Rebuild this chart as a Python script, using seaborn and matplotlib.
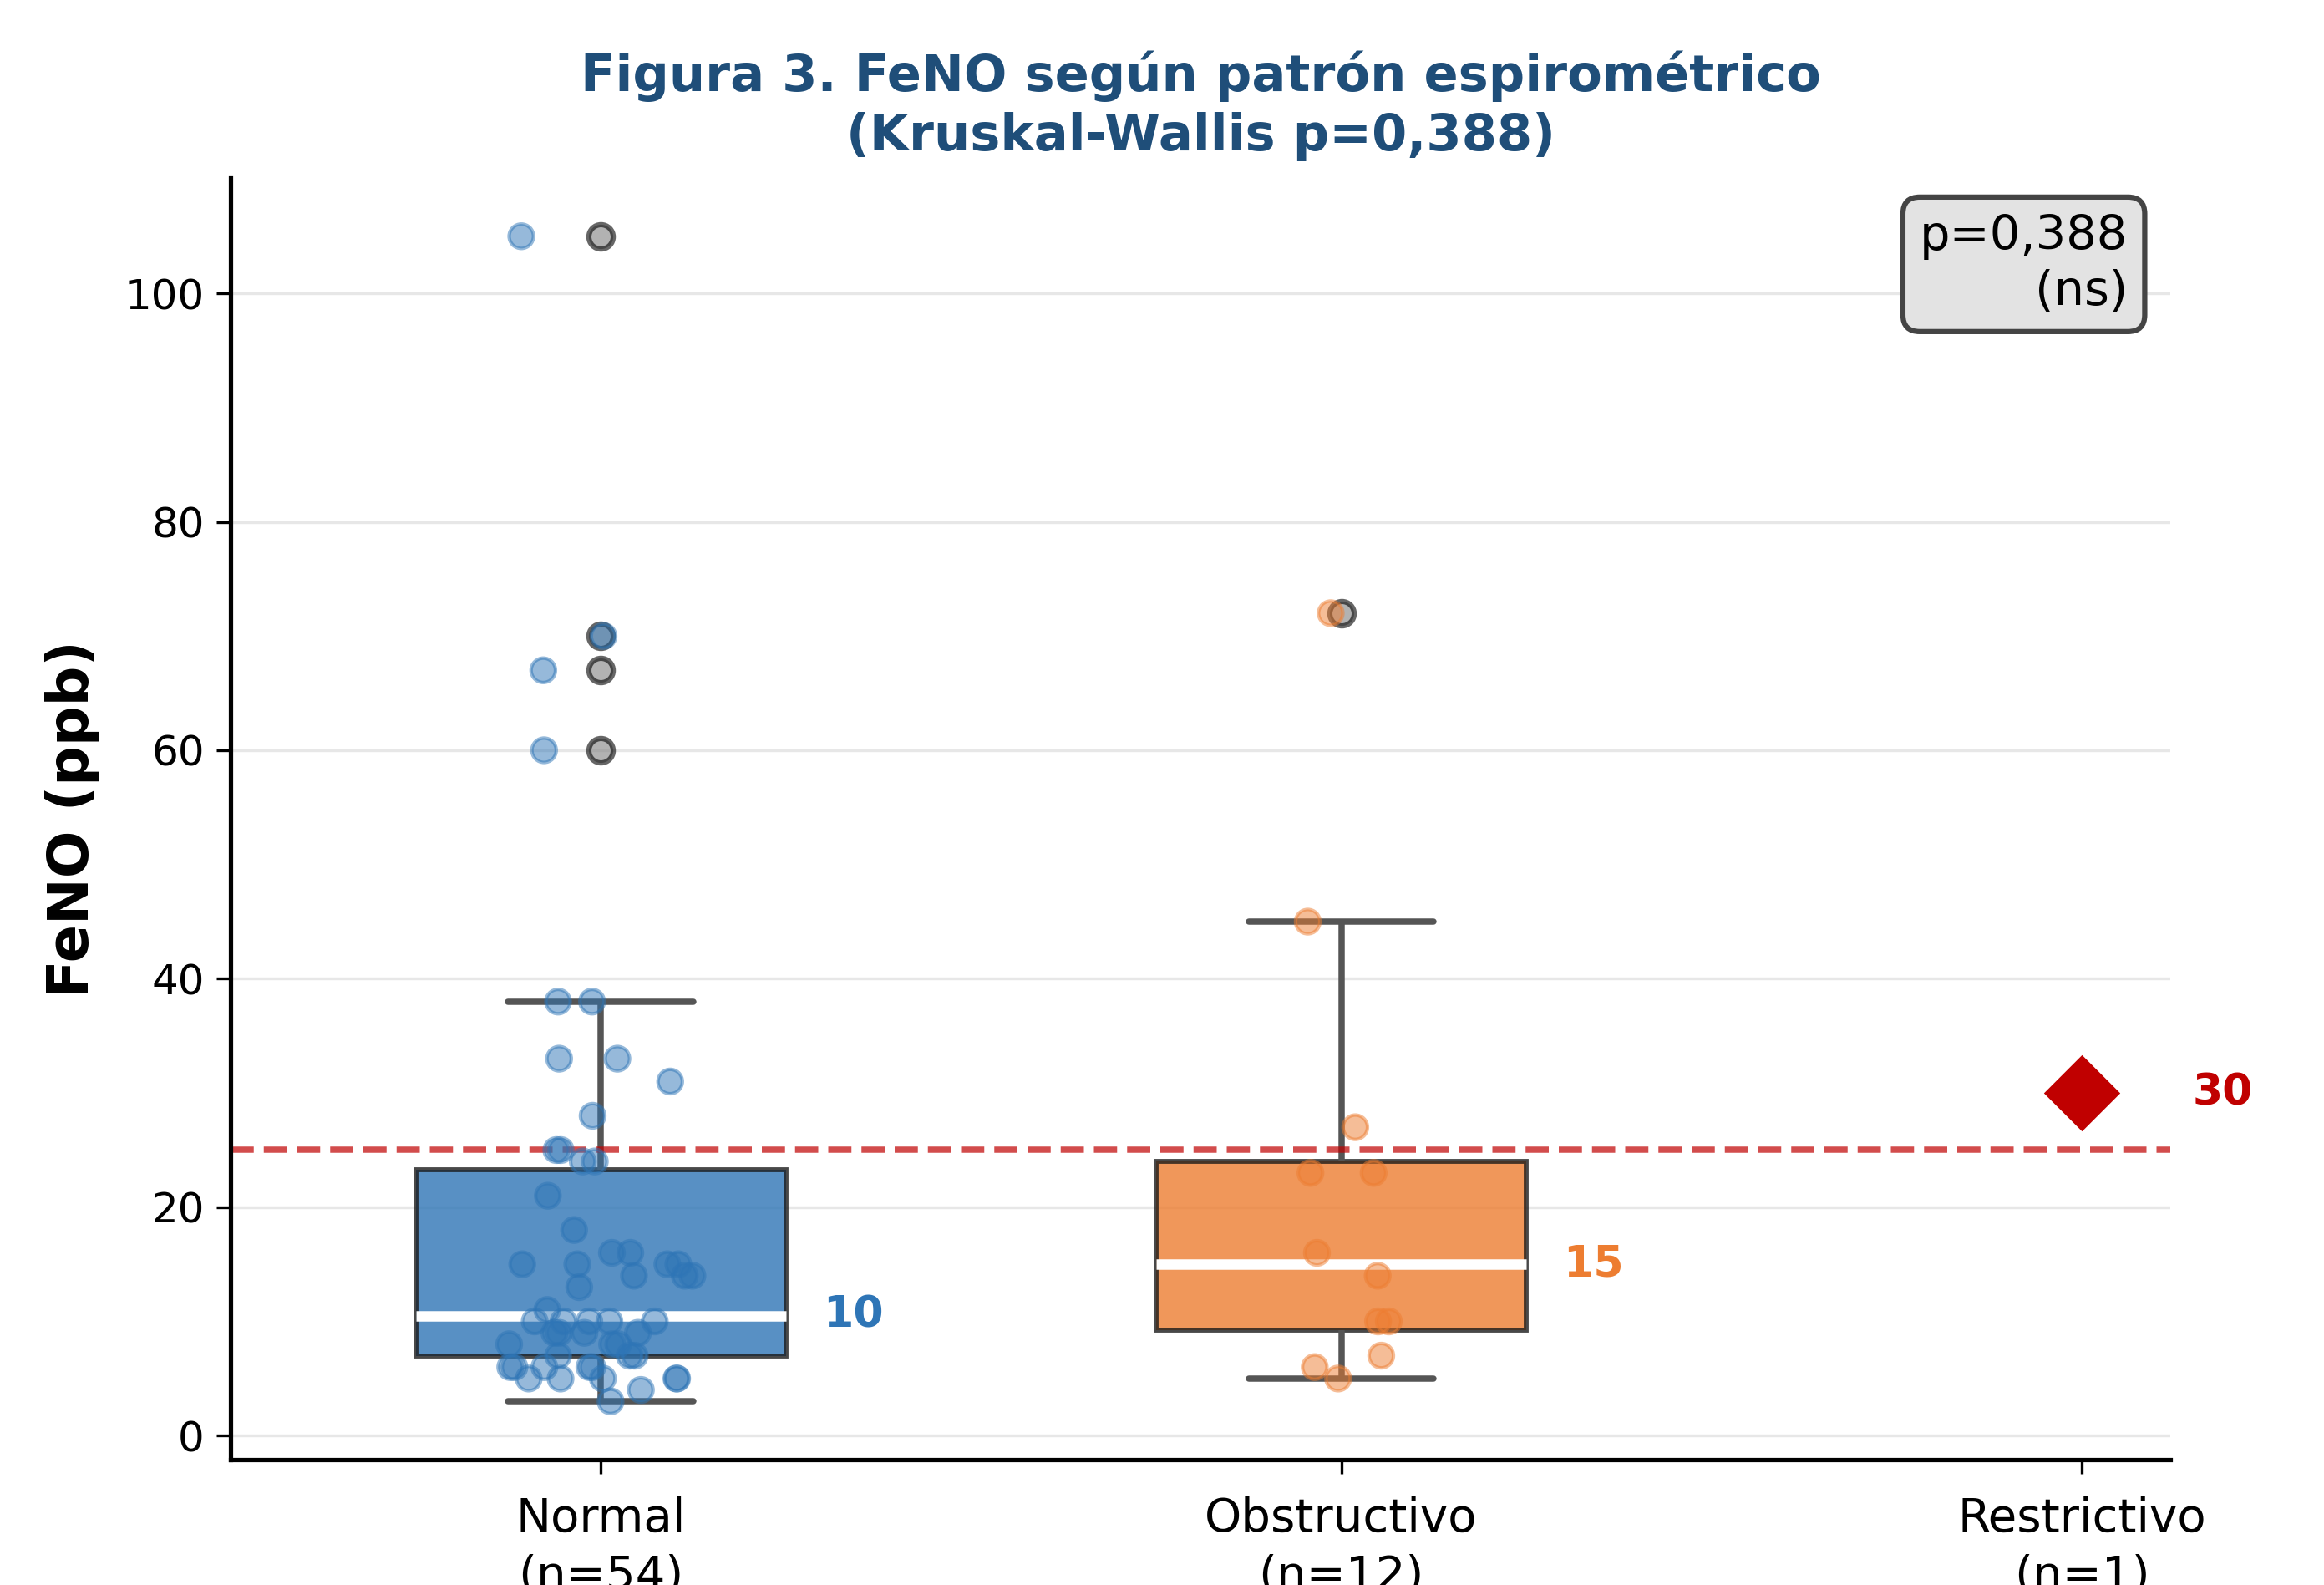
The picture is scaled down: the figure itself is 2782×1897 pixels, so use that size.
import numpy as np
import pandas as pd
import matplotlib
matplotlib.use("Agg")
import matplotlib.pyplot as plt
import seaborn as sns


# ============================================================
# DATOS
# ============================================================

grupos = ["Normal", "Obstructivo", "Restrictivo"]
n_por_grupo = [54, 12, 1]

feno_normal = [3, 4, 5, 5, 5, 5, 5, 6, 6, 6, 6, 6, 7, 7, 7, 8, 8, 8,
               9, 9, 9, 9, 10, 10, 10, 10, 10, 11, 13, 14, 14, 14,
               15, 15, 15, 15, 16, 16, 18, 21, 24, 24, 25, 25, 28, 31,
               33, 33, 38, 38, 60, 67, 70, 105]
feno_obstructivo = [5, 6, 7, 10, 10, 14, 16, 23, 23, 27, 45, 72]
feno_restrictivo = [30]

colores = {"Normal": "#2E75B6", "Obstructivo": "#ED7D31", "Restrictivo": "#C00000"}
umbral = 25
p_valor = "0,388"


df = pd.DataFrame({
    "grupo": ["Normal"] * len(feno_normal)
             + ["Obstructivo"] * len(feno_obstructivo)
             + ["Restrictivo"] * len(feno_restrictivo),
    "feno": feno_normal + feno_obstructivo + feno_restrictivo,
})
df_box = df[df["grupo"] != "Restrictivo"]
df_res = df[df["grupo"] == "Restrictivo"]


# ============================================================
# FIGURA
# ============================================================

sns.set_style("ticks")
plt.rcParams["font.family"] = ["DejaVu Sans"]
plt.rcParams["text.color"] = "black"
plt.rcParams["axes.labelcolor"] = "black"
plt.rcParams["xtick.color"] = "black"
plt.rcParams["ytick.color"] = "black"
plt.rcParams["axes.edgecolor"] = "black"
plt.rcParams["axes.linewidth"] = 1.25
plt.rcParams["xtick.major.size"] = 4
plt.rcParams["ytick.major.size"] = 4
plt.rcParams["xtick.major.width"] = 0.8
plt.rcParams["ytick.major.width"] = 0.8

fig, ax = plt.subplots(figsize=(2782 / 300, 1897 / 300), dpi=300)
fig.subplots_adjust(left=0.0992, right=0.934, bottom=0.0791, top=0.8877)

ax.set_axisbelow(True)
ax.grid(True, color="#b0b0b0", alpha=0.3, linewidth=0.8)

sns.boxplot(
    data=df_box, x="grupo", y="feno", hue="grupo", order=grupos,
    hue_order=grupos, palette=colores, saturation=1, width=0.5,
    legend=False, ax=ax, fliersize=7,
    boxprops=dict(alpha=0.8, edgecolor="#1a1a1a", linewidth=1.4),
    medianprops=dict(color="white", linewidth=3),
    whiskerprops=dict(color="#555555", linewidth=1.8),
    capprops=dict(color="#555555", linewidth=1.8),
    flierprops=dict(marker="o", markerfacecolor="gray",
                    markeredgecolor="black", markeredgewidth=1.5, alpha=0.6),
)

np.random.seed(3)
sns.stripplot(
    data=df_box, x="grupo", y="feno", hue="grupo", order=grupos,
    hue_order=grupos, palette=colores, jitter=0.13, size=7, alpha=0.5,
    linewidth=1, edgecolor="face", legend=False, ax=ax, zorder=3,
)

sns.stripplot(
    data=df_res, x="grupo", y="feno", order=grupos, color=colores["Restrictivo"],
    marker="D", size=15.5, jitter=False, linewidth=0, ax=ax, zorder=4,
)

ax.axhline(umbral, color="#C00000", linestyle="--", linewidth=1.8, alpha=0.7)

# medianas
for i, g in enumerate(grupos):
    vals = df.loc[df["grupo"] == g, "feno"]
    med = np.median(vals)
    dx = 0.15 if len(vals) == 1 else 0.3
    ax.text(i + dx, med, f"{med:.0f}", color=colores[g], fontsize=12.5,
            fontweight="bold", ha="left", va="center")

ax.text(0.978, 0.972, f"p={p_valor}\n(ns)", transform=ax.transAxes,
        ha="right", va="top", multialignment="right", fontsize=13.8,
        linespacing=1.25,
        bbox=dict(boxstyle="round,pad=0.35", facecolor="#e3e3e3",
                  edgecolor="#444444", linewidth=1.5))

ax.set_xlim(-0.5, 2.12)
ax.set_ylim(-2.1, 110.1)
ax.set_xticks(range(len(grupos)))
ax.set_xticklabels([f"{g}\n(n={n})" for g, n in zip(grupos, n_por_grupo)],
                   fontsize=13.5, linespacing=1.35)
ax.tick_params(axis="x", pad=6.5)
ax.tick_params(axis="y", labelsize=12)
ax.set_xlabel("")
ax.set_ylabel("FeNO (ppb)", fontsize=16, fontweight="bold", labelpad=7)
ax.set_title("Figura 3. FeNO según patrón espirométrico\n"
             f"(Kruskal-Wallis p={p_valor})",
             fontsize=14.6, fontweight="bold", color="#1F4E79", pad=8,
             linespacing=1.25)

sns.despine(ax=ax)

fig.savefig("out.png", dpi=300)
plt.close(fig)
